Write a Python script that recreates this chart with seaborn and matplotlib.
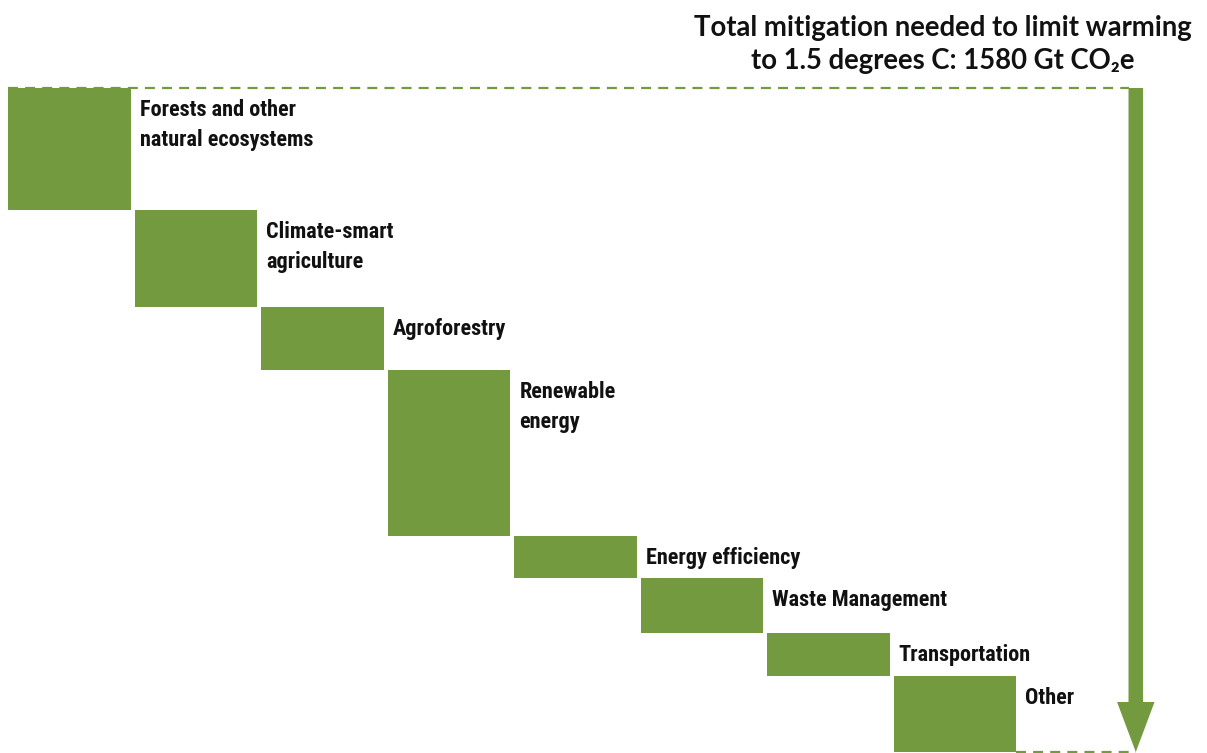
import matplotlib
matplotlib.use("Agg")
import matplotlib.pyplot as plt
from matplotlib import font_manager
import seaborn as sns
import pandas as pd
import numpy as np

# ---- data ----
categories = ["Forests and other\nnatural ecosystems", "Climate-smart\nagriculture",
              "Agroforestry", "Renewable\nenergy", "Energy efficiency",
              "Waste Management", "Transportation", "Other"]
values = [290, 232, 150, 395, 98, 133, 100, 182]
total = 1580
title_lines = ["Total mitigation needed to limit warming",
               "to 1.5 degrees C: 1580 Gt CO\u2082e"]

GREEN = "#739a3f"

sns.set_theme(style="white")
plt.rcParams['font.family'] = ['Lato', 'DejaVu Sans']

names = {f.name for f in font_manager.fontManager.ttflist}
label_family = None
label_stretch = 'normal'
for cand in ["Liberation Sans Narrow", "DejaVu Sans Condensed", "Roboto Condensed", "Open Sans Condensed"]:
    if cand in names:
        label_family = cand
        break
if label_family is None:
    label_family = "Roboto"
    label_stretch = 'condensed'

# cumulative bottoms (waterfall going down from total)
tops = total - np.concatenate([[0], np.cumsum(values)[:-1]])
bottoms = tops - np.array(values)

df = pd.DataFrame({"category": categories, "value": values, "bottom": bottoms})

fig = plt.figure(figsize=(12.07, 7.53), dpi=100)
ax = fig.add_axes([0, 0, 1, 1])

bw = 0.97
sns.barplot(data=df, x="category", y="value", bottom=df["bottom"].values,
            color=GREEN, saturation=1, width=bw, errorbar=None, linewidth=0, ax=ax)

px_x = 126.5
ax.set_xlim(-69.5 / px_x, (1207 - 69.5) / px_x)
px_y = 664 / total
ax.set_ylim(-1 / px_y, total + 88 / px_y)
ax.set_axis_off()

arrow_x = (1135.8 - 69.5) / px_x

# dashed lines
ax.plot([-bw / 2, arrow_x - 0.05], [total, total], color=GREEN, lw=1.6,
        dashes=(4.5, 3.2), solid_capstyle='butt')
ax.plot([len(values) - 1 + bw / 2, arrow_x], [0, 0], color=GREEN, lw=1.6,
        dashes=(4.5, 3.2))

# arrow
ax.annotate("", xy=(arrow_x, 0), xytext=(arrow_x, total),
            arrowprops=dict(arrowstyle="simple,head_length=3.6,head_width=2.7,tail_width=1.05",
                            color=GREEN, mutation_scale=10, shrinkA=0, shrinkB=0, lw=0))

# labels
for i, (cat, top) in enumerate(zip(categories, tops)):
    ax.annotate(cat, xy=(i + bw / 2, top), xytext=(9, -11), textcoords="offset pixels",
                ha="left", va="top", fontsize=16, fontweight="bold",
                family=[label_family, 'DejaVu Sans'], fontstretch=label_stretch,
                color="#111111", linespacing=1.45)

# title
ax.text(943 / 1207, 1 - 15 / 753, "\n".join(title_lines), transform=ax.transAxes,
        ha="center", va="top", fontsize=19.8, fontweight="bold",
        family=['Lato', 'DejaVu Sans'], color="#111111", linespacing=1.35)

fig.savefig("out.png", dpi=100)
